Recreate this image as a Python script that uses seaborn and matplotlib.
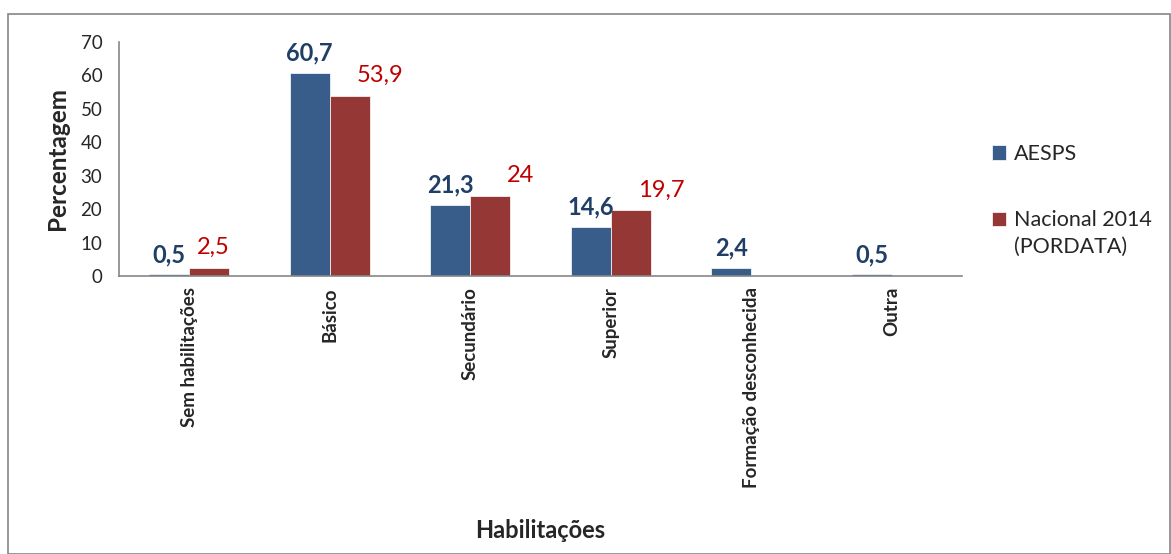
import pandas as pd
import numpy as np
import matplotlib
matplotlib.use("Agg")
import matplotlib.pyplot as plt
import seaborn as sns
from matplotlib.patches import Rectangle

categorias = ["Sem habilitações", "Básico", "Secundário", "Superior",
              "Formação desconhecida", "Outra"]
aesps = [0.5, 60.7, 21.3, 14.6, 2.4, 0.5]
nacional = [2.5, 53.9, 24, 19.7, np.nan, np.nan]
series = ["AESPS", "Nacional 2014"]
nota_serie2 = "(PORDATA)"

azul = "#385D8A"
vermelho = "#953735"
cor_rotulo_azul = "#1F3F66"
cor_rotulo_verm = "#C00000"

dados = pd.DataFrame({
    "Habilitações": categorias * 2,
    "Valor": aesps + nacional,
    "Série": [series[0]] * len(categorias) + [series[1]] * len(categorias),
})

sns.set_theme(style="white")
plt.rcParams["font.family"] = ["Lato", "DejaVu Sans"]

fig = plt.figure(figsize=(11.71, 5.54), dpi=100)
ax = fig.add_axes([0.1016, 0.5018, 0.7199, 0.4224])

sns.barplot(data=dados, x="Habilitações", y="Valor", hue="Série",
            order=categorias, hue_order=series,
            palette=[azul, vermelho], width=0.57, saturation=1,
            edgecolor="white", linewidth=0.5, ax=ax, legend=True)

ax.set_ylim(0, 70)
ax.set_xlim(-0.5, 5.5)
ax.set_yticks(range(0, 71, 10))
ax.tick_params(axis="y", labelsize=13.5, length=0, pad=12)
ax.tick_params(axis="x", labelsize=13.5, length=0, pad=8)
for t in ax.get_xticklabels():
    t.set_rotation(90)
    t.set_fontweight("bold")
    t.set_va("top")

for s in ["top", "right"]:
    ax.spines[s].set_visible(False)
for s in ["left", "bottom"]:
    ax.spines[s].set_color("#868686")
    ax.spines[s].set_linewidth(1.2)

ax.set_ylabel("Percentagem", fontsize=17.5, fontweight="bold", labelpad=8)
ax.set_xlabel("Habilitações", fontsize=17, fontweight="bold")
ax.xaxis.set_label_coords(0.5, -1.04)

# rotulos de dados
desloc_verm = [3, 22, 22, 22, 0, 0]
for i, v in enumerate(aesps):
    ax.annotate(f"{v:g}".replace(".", ","), (i - 0.1425, v),
                xytext=(0, 6), textcoords="offset points",
                ha="center", va="bottom", fontsize=17, fontweight="bold",
                color=cor_rotulo_azul)
for i, v in enumerate(nacional):
    if np.isnan(v):
        continue
    ax.annotate(f"{v:g}".replace(".", ","), (i + 0.1425, v),
                xytext=(desloc_verm[i], 7), textcoords="offset points",
                ha="center", va="bottom", fontsize=17,
                color=cor_rotulo_verm)

leg = ax.legend(loc="upper left", bbox_to_anchor=(1.025, 0.6), frameon=False,
                fontsize=15.5, handlelength=0.65, handleheight=0.65,
                handletextpad=0.4, labelspacing=2.15, borderaxespad=0)

# segunda linha do rotulo da legenda
fig.canvas.draw()
ext = leg.get_texts()[1].get_window_extent()
fig.text(ext.x0 / 1171, (ext.y0 - 6) / 554, nota_serie2, fontsize=15.5,
         ha="left", va="top")

fig.patches.append(Rectangle((8 / 1171, 0), 1 - 8 / 1171 - 0.0005, 1 - 14 / 554,
                             transform=fig.transFigure, fill=False,
                             edgecolor="#868686", linewidth=1.2))

plt.savefig("out.png", dpi=100)
plt.close()
